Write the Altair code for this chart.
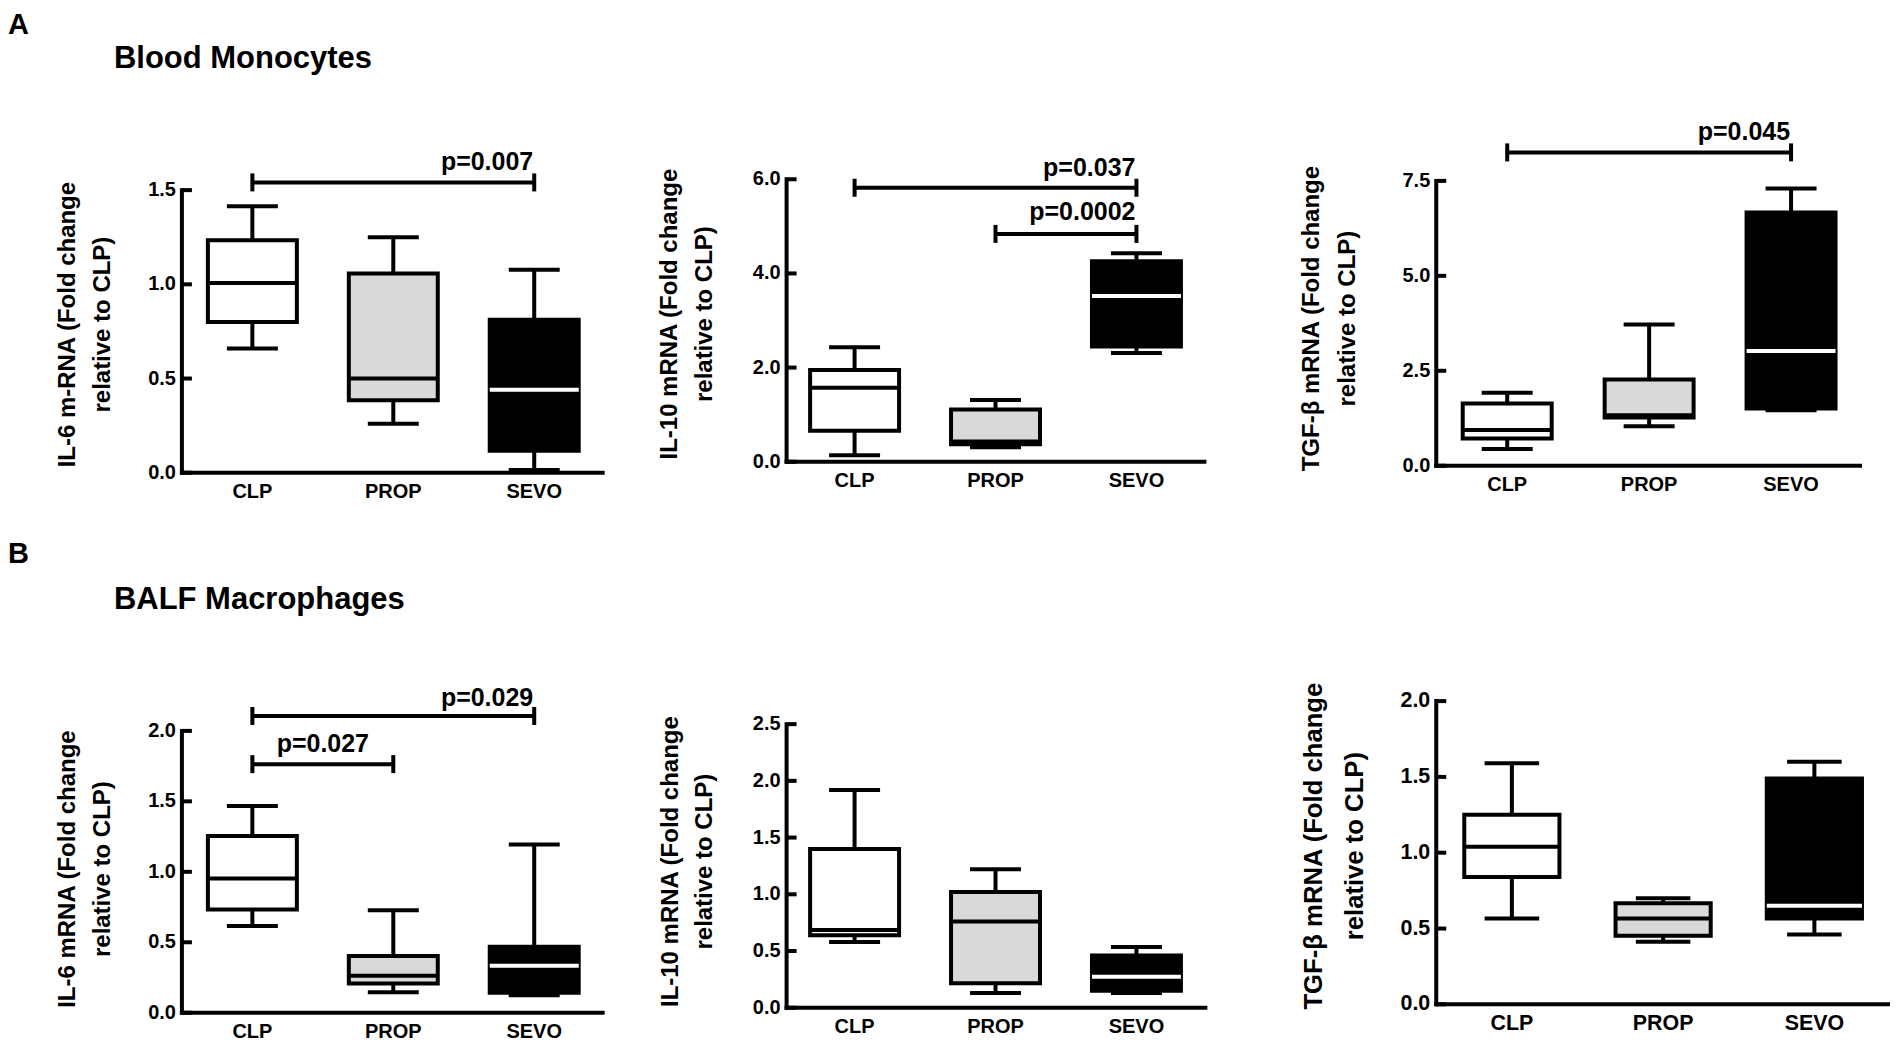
import altair as alt
import pandas as pd

# ---------------- data ----------------
groups = ["CLP", "PROP", "SEVO"]
box_fills = ["#ffffff", "#d9d9d9", "#000000"]
median_colors = ["#000000", "#000000", "#ffffff"]

# A: Blood monocytes
a_il6_low = [0.66, 0.26, 0.015]
a_il6_q1 = [0.80, 0.385, 0.117]
a_il6_med = [1.007, 0.50, 0.44]
a_il6_q3 = [1.234, 1.058, 0.812]
a_il6_high = [1.415, 1.25, 1.078]

a_il10_low = [0.14, 0.31, 2.31]
a_il10_q1 = [0.66, 0.37, 2.45]
a_il10_med = [1.57, 0.43, 3.52]
a_il10_q3 = [1.95, 1.11, 4.26]
a_il10_high = [2.43, 1.31, 4.43]

a_tgf_low = [0.44, 1.04, 1.46]
a_tgf_q1 = [0.72, 1.27, 1.51]
a_tgf_med = [0.94, 1.33, 3.02]
a_tgf_q3 = [1.64, 2.27, 6.67]
a_tgf_high = [1.92, 3.72, 7.30]

# B: BALF macrophages
b_il6_low = [0.615, 0.145, 0.125]
b_il6_q1 = [0.733, 0.208, 0.142]
b_il6_med = [0.953, 0.262, 0.333]
b_il6_q3 = [1.255, 0.402, 0.468]
b_il6_high = [1.467, 0.728, 1.194]

b_il10_low = [0.58, 0.13, 0.13]
b_il10_q1 = [0.64, 0.215, 0.15]
b_il10_med = [0.686, 0.76, 0.274]
b_il10_q3 = [1.40, 1.02, 0.46]
b_il10_high = [1.92, 1.22, 0.535]

b_tgf_low = [0.567, 0.413, 0.46]
b_tgf_q1 = [0.84, 0.452, 0.567]
b_tgf_med = [1.04, 0.567, 0.65]
b_tgf_q3 = [1.25, 0.666, 1.49]
b_tgf_high = [1.59, 0.70, 1.60]

# y-axis tick values
ticks_a_il6 = [0, 0.5, 1.0, 1.5]
ticks_a_il10 = [0, 2.0, 4.0, 6.0]
ticks_a_tgf = [0, 2.5, 5.0, 7.5]
ticks_b_il6 = [0, 0.5, 1.0, 1.5, 2.0]
ticks_b_il10 = [0, 0.5, 1.0, 1.5, 2.0, 2.5]
ticks_b_tgf = [0, 0.5, 1.0, 1.5, 2.0]

# significance brackets: from, to, height, label
sig_a_il6 = [("CLP", "SEVO", 1.541, "p=0.007")]
sig_a_il10 = [("CLP", "SEVO", 5.82, "p=0.037"), ("PROP", "SEVO", 4.84, "p=0.0002")]
sig_a_tgf = [("CLP", "SEVO", 8.25, "p=0.045")]
sig_b_il6 = [("CLP", "PROP", 1.764, "p=0.027"), ("CLP", "SEVO", 2.106, "p=0.029")]

titles_a = ["IL-6 m-RNA (Fold change", "IL-10 mRNA (Fold change", "TGF-\u03b2 mRNA (Fold change"]
titles_b = ["IL-6 mRNA (Fold change", "IL-10 mRNA (Fold change", "TGF-\u03b2 mRNA (Fold change"]
title_line2 = "relative to CLP)"

# ---------------- styling / layout ----------------
REG = "Liberation Sans, Arial, sans-serif"
ROW_TOP = {"A": 170.0, "B": 690.0}
HIDDEN_AXIS = alt.Axis(labels=False, ticks=False, domain=False, grid=False, title=None)


def panel(row, low, q1, med, q3, high, ticks, title1, zero_px, ppu, width, axis_len,
          pad_inner, pad_outer, align, title_xs, title_y, sigs=(), s=1.0, header=None):
    height = zero_px - ROW_TOP[row]
    ymax = height / ppu
    df = pd.DataFrame({"group": groups, "low": low, "q1": q1, "med": med, "q3": q3,
                       "high": high, "fill": box_fills, "mcolor": median_colors})
    lw = 4
    box_w = 89 * s
    cap_w = 51 * s
    step = width / (3 - pad_inner + 2 * pad_outer)

    xscale = alt.Scale(domain=groups, paddingInner=pad_inner, paddingOuter=pad_outer, align=align)
    yscale = alt.Scale(domain=[0, ymax], nice=False, zero=False)
    xn = alt.X("group:N", axis=None)

    base = alt.Chart(df)
    whisk = base.mark_rule(strokeWidth=lw, color="black").encode(
        x=alt.X("group:N", scale=xscale, axis=HIDDEN_AXIS),
        y=alt.Y("low:Q", scale=yscale, axis=HIDDEN_AXIS), y2="high:Q")
    cap_lo = base.mark_tick(size=cap_w, thickness=lw, color="black", opacity=1).encode(
        x=xn, y=alt.Y("low:Q", axis=None))
    cap_hi = base.mark_tick(size=cap_w, thickness=lw, color="black", opacity=1).encode(
        x=xn, y=alt.Y("high:Q", axis=None))
    box = base.mark_bar(size=box_w, stroke="black", strokeWidth=lw, opacity=1).encode(
        x=xn, y=alt.Y("q1:Q", axis=None), y2="q3:Q", fill=alt.Fill("fill:N", scale=None))
    median = base.mark_tick(size=box_w, thickness=lw, opacity=1).encode(
        x=xn, y=alt.Y("med:Q", axis=None), color=alt.Color("mcolor:N", scale=None))

    # axis lines, inward ticks and labels drawn like GraphPad
    yline = alt.Chart(pd.DataFrame({"a": [0.0], "b": [ticks[-1]]})).mark_rule(
        strokeWidth=lw, color="black", strokeCap="square").encode(
        x=alt.value(0), y=alt.Y("a:Q", axis=None), y2="b:Q")
    tick_df = pd.DataFrame({"v": ticks, "lab": [f"{t:.1f}" for t in ticks]})
    yticks = alt.Chart(tick_df).mark_rule(strokeWidth=lw, color="black").encode(
        x=alt.value(0), x2=alt.value(10), y=alt.Y("v:Q", axis=None))
    ylabels = alt.Chart(tick_df).mark_text(align="right", baseline="middle", font=REG,
                                           fontSize=20 * s, fontWeight="bold", color="black").encode(
        x=alt.value(-6), y=alt.Y("v:Q", axis=None), text="lab:N")
    xline = alt.Chart(pd.DataFrame({"z": [0.0]})).mark_rule(strokeWidth=lw, color="black").encode(
        x=alt.value(-2), x2=alt.value(axis_len), y=alt.Y("z:Q", axis=None))
    xlabels = base.mark_text(baseline="top", font=REG, fontSize=20 * s,
                             fontWeight="bold", color="black").encode(
        x=xn, y=alt.value(height + 9), text="group:N")
    tdf1 = alt.Chart(pd.DataFrame({"t": [title1]}))
    tdf2 = alt.Chart(pd.DataFrame({"t": [title_line2]}))
    ytitle1 = tdf1.mark_text(angle=270, align="center", baseline="alphabetic", font=REG,
                             fontSize=24 * s, fontWeight="bold", color="black").encode(
        x=alt.value(title_xs[0]), y=alt.value(title_y), text="t:N")
    ytitle2 = tdf2.mark_text(angle=270, align="center", baseline="alphabetic", font=REG,
                             fontSize=24 * s, fontWeight="bold", color="black").encode(
        x=alt.value(title_xs[1]), y=alt.value(title_y), text="t:N")

    layers = [whisk, yline, yticks, ylabels, xline, xlabels, ytitle1, ytitle2,
              cap_lo, cap_hi, box, median]

    for (g1, g2, yv, lab) in sigs:
        sd = pd.DataFrame({"g1": [g1], "g2": [g2], "y": [yv], "lab": [lab]})
        sb = alt.Chart(sd)
        layers.append(sb.mark_rule(strokeWidth=lw, color="black").encode(
            x=alt.X("g1:N", axis=None), x2="g2:N", y=alt.Y("y:Q", axis=None)))
        layers.append(sb.mark_tick(orient="vertical", size=18, thickness=lw, color="black", opacity=1).encode(
            x=alt.X("g1:N", axis=None), y=alt.Y("y:Q", axis=None)))
        layers.append(sb.mark_tick(orient="vertical", size=18, thickness=lw, color="black", opacity=1).encode(
            x=alt.X("g2:N", axis=None), y=alt.Y("y:Q", axis=None)))
        is_adjacent = groups.index(g2) - groups.index(g1) == 1 and g2 != "SEVO"
        if is_adjacent:
            txt = sb.mark_text(align="center", baseline="alphabetic", dx=step / 2, dy=-12,
                               font=REG, fontSize=25, fontWeight="bold", color="black").encode(
                x=alt.X("g1:N", axis=None), y=alt.Y("y:Q", axis=None), text="lab:N")
        else:
            dy = -14 if lab == "p=0.0002" else (-10 if lab == "p=0.029" else -12)
            txt = sb.mark_text(align="right", baseline="alphabetic", dx=-1, dy=dy,
                               font=REG, fontSize=25, fontWeight="bold", color="black").encode(
                x=alt.X("g2:N", axis=None), y=alt.Y("y:Q", axis=None), text="lab:N")
        layers.append(txt)

    if header is not None:
        letter, heading, letter_y, heading_y = header
        hd = alt.Chart(pd.DataFrame({"t": [letter]}))
        layers.append(hd.mark_text(align="left", baseline="top", font=REG, fontSize=29,
                                   fontWeight="bold", color="black").encode(
            x=alt.value(-174), y=alt.value(letter_y), text="t:N"))
        ht = alt.Chart(pd.DataFrame({"t": [heading]}))
        layers.append(ht.mark_text(align="left", baseline="alphabetic", font=REG, fontSize=31,
                                   fontWeight="bold", color="black").encode(
            x=alt.value(-68), y=alt.value(heading_y), text="t:N"))

    return alt.layer(*layers).properties(width=width, height=height)


pA1 = panel("A", a_il6_low, a_il6_q1, a_il6_med, a_il6_q3, a_il6_high, ticks_a_il6, titles_a[0],
            472.7, 188.5, 423, 423, 0.0, 0.0, 0.5, (-107, -72), 154.5, sig_a_il6,
            header=("A", "Blood Monocytes", -159, -102))
pA2 = panel("A", a_il10_low, a_il10_q1, a_il10_med, a_il10_q3, a_il10_high, ticks_a_il10, titles_a[1],
            461.7, 47.1, 468, 420, 0.035, 0.177, 0.0, (-110, -75), 144, sig_a_il10)
pA3 = panel("A", a_tgf_low, a_tgf_q1, a_tgf_med, a_tgf_q3, a_tgf_high, ticks_a_tgf, titles_a[2],
            465.7, 38.0, 426, 426, 0.0, 0.0, 0.5, (-117, -81), 148.5, sig_a_tgf)
pB1 = panel("B", b_il6_low, b_il6_q1, b_il6_med, b_il6_q3, b_il6_high, ticks_b_il6, titles_b[0],
            1012.7, 141.0, 423, 423, 0.0, 0.0, 0.5, (-107, -72), 179, sig_b_il6,
            header=("B", "BALF Macrophages", -150, -81.7))
pB2 = panel("B", b_il10_low, b_il10_q1, b_il10_med, b_il10_q3, b_il10_high, ticks_b_il10, titles_b[1],
            1007.7, 113.5, 468, 421, 0.035, 0.177, 0.0, (-109, -75), 171.5)
pB3 = panel("B", b_tgf_low, b_tgf_q1, b_tgf_med, b_tgf_q3, b_tgf_high, ticks_b_tgf, titles_b[2],
            1004.3, 151.7, 454, 454, 0.0, 0.0, 0.5, (-114, -73), 156, s=1.07)

row_a_height = 472.7 - ROW_TOP["A"]
row_gap = ROW_TOP["B"] - ROW_TOP["A"] - row_a_height

chart = alt.concat(pA1, pA2, pA3, pB1, pB2, pB3, columns=3,
                   spacing={"row": row_gap, "column": 182}, bounds="flush", align="each").properties(
    padding={"left": 0, "top": 3, "right": 2, "bottom": 2},
    background="white",
).configure_view(stroke=None)

chart.save("out.html", embed_options={"renderer": "svg", "actions": False})
